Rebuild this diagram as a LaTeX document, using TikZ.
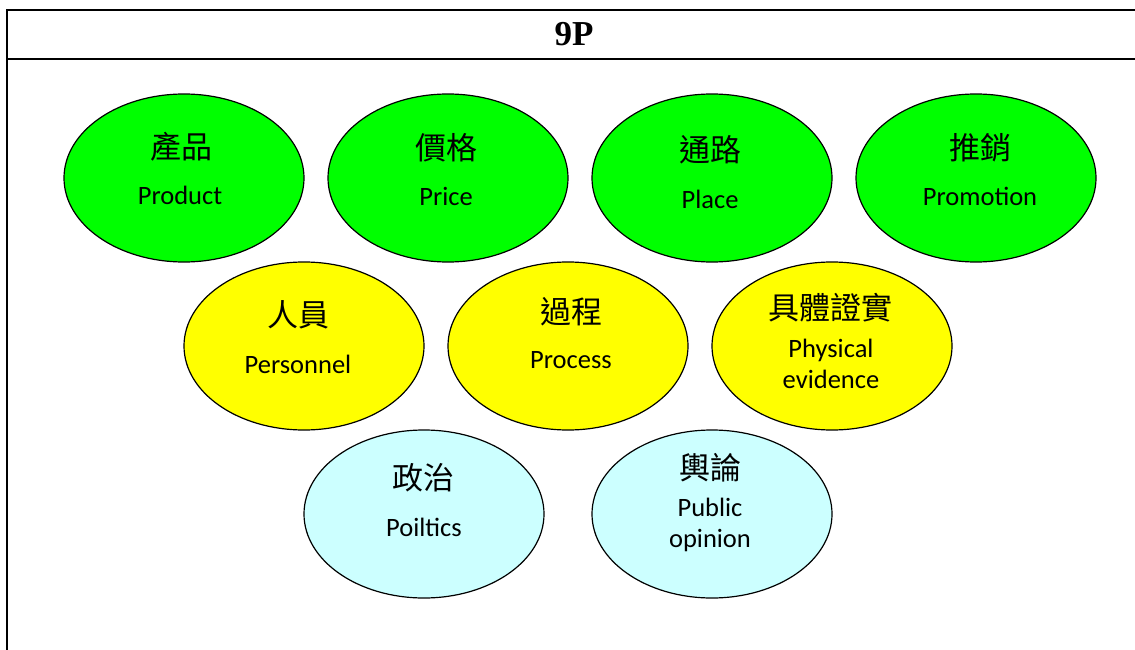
\documentclass[tikz,border=0pt]{standalone}
\usepackage{fontspec}
\setmainfont{Carlito}
\newfontfamily\cjk{Noto Sans CJK TC}
\newfontfamily\titlefont{Liberation Serif}
\usetikzlibrary{shapes.geometric}
\definecolor{pgreen}{HTML}{00FF00}
\definecolor{pyellow}{HTML}{FFFF00}
\definecolor{pcyan}{HTML}{CCFFFF}
\begin{document}
\begin{tikzpicture}[x=1pt,y=-1pt,
  oval/.style={ellipse, draw=black, line width=1.2pt, minimum width=240pt, minimum height=168pt, inner sep=0pt},
  zh/.style={font=\cjk\fontsize{31}{34}\selectfont, inner sep=0pt},
  en/.style={font=\fontsize{26.5}{30.5}\selectfont, inner sep=0pt, align=center},
  frameline/.style={line width=2pt},
  titletext/.style={font=\titlefont\bfseries\fontsize{35}{38}\selectfont, inner sep=0pt}]
\useasboundingbox (0,0) rectangle (1135,650);
% frame
\coordinate (bl) at (7,650);
\coordinate (tl) at (7,10);
\coordinate (tr) at (1135,10);
\coordinate (ml) at (7,59);
\coordinate (mr) at (1135,59);
\draw[frameline] (bl) -- (tl) -- (tr);
\draw[frameline] (ml) -- (mr);
\node[titletext] (title) at (574,34) {9P};
% green row
\node[oval, fill=pgreen] (prod) at (184,178) {};
\node[oval, fill=pgreen] (price) at (448,178) {};
\node[oval, fill=pgreen] (place) at (712,178) {};
\node[oval, fill=pgreen] (promo) at (976,178) {};
% yellow row
\node[oval, fill=pyellow] (pers) at (304,346) {};
\node[oval, fill=pyellow] (proc) at (568,346) {};
\node[oval, fill=pyellow] (phys) at (832,346) {};
% cyan row
\node[oval, fill=pcyan] (pol) at (424,514) {};
\node[oval, fill=pcyan] (pub) at (712,514) {};
% texts
\node[zh] (prodzh) at (181,147) {產品};
\node[en] (proden) at (180,195) {Product};
\node[zh] (pricezh) at (446,148) {價格};
\node[en] (priceen) at (446,196) {Price};
\node[zh] (placezh) at (710,150) {通路};
\node[en] (placeen) at (710,199) {Place};
\node[zh] (promozh) at (980,148) {推銷};
\node[en] (promoen) at (980,196) {Promotion};
\node[zh] (perszh) at (298,315) {人員};
\node[en] (persen) at (298,364) {Personnel};
\node[zh] (proczh) at (571,312) {過程};
\node[en] (procen) at (571,360) {Process};
\node[zh] (physzh) at (830,308) {具體證實};
\node[en] (physen) at (831,364) {Physical\\evidence};
\node[zh] (polzh) at (423,478) {政治};
\node[en] (polen) at (424,527) {Poiltics};
\node[zh] (pubzh) at (710,468) {輿論};
\node[en] (puben) at (710,525) {Public\\opinion};
\end{tikzpicture}
\end{document}
